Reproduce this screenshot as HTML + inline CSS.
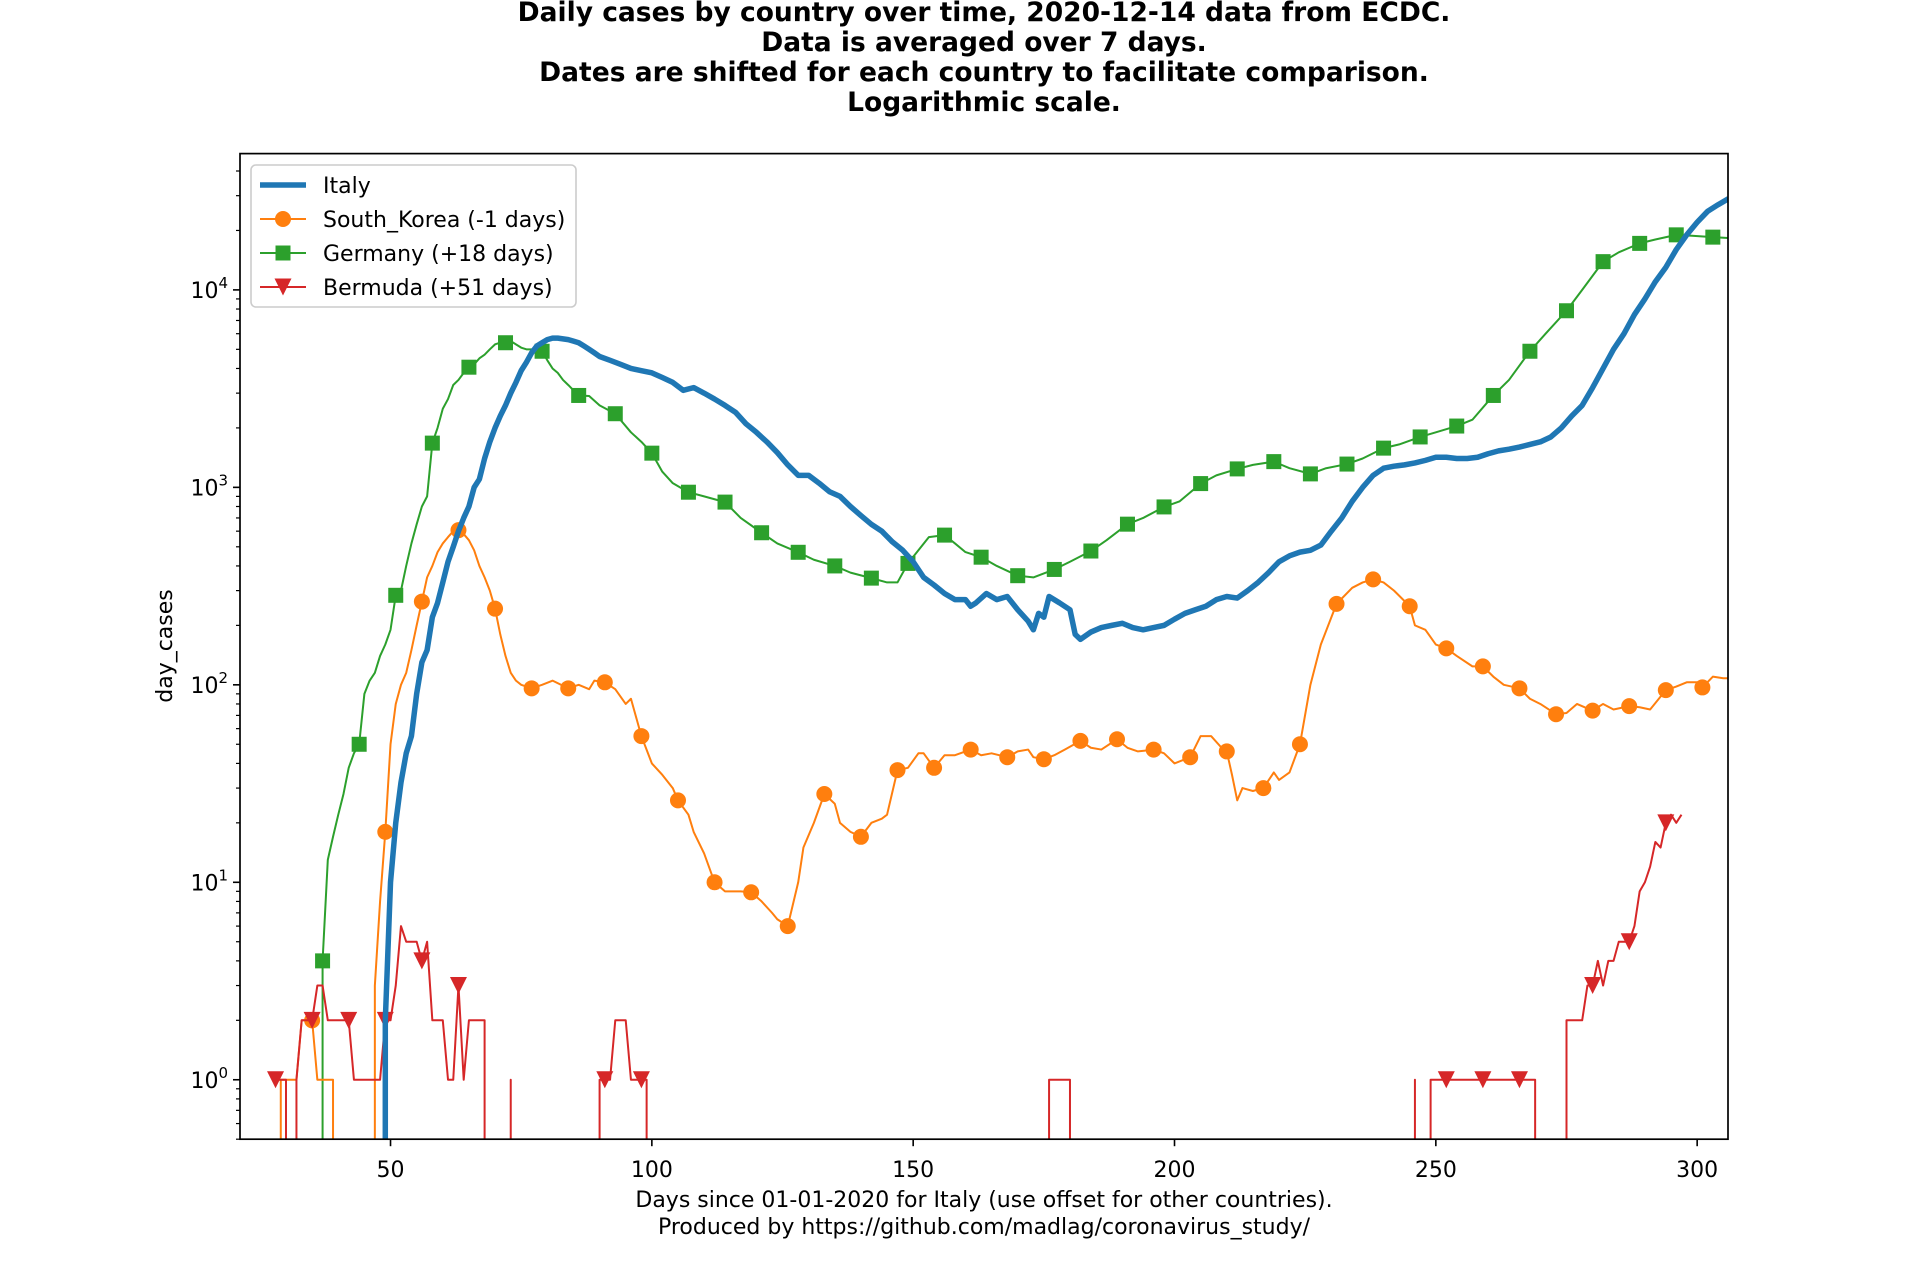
<!DOCTYPE html>
<html><head><meta charset="utf-8"><style>
html,body{margin:0;padding:0;background:#fff;overflow:hidden;width:1920px;height:1280px;}
svg{display:block;overflow:hidden;}
svg text{font-family:"DejaVu Sans","Liberation Sans",sans-serif;}
</style></head><body>
<svg id="chart" xmlns="http://www.w3.org/2000/svg" width="1920" height="1280" viewBox="0 0 1920 1280">
<rect x="0" y="0" width="1920" height="1280" fill="#fff"/>
<g font-weight="bold" font-size="26.5" text-anchor="middle">
<text x="984" y="21">Daily cases by country over time, 2020-12-14 data from ECDC.</text>
<text x="984" y="51">Data is averaged over 7 days.</text>
<text x="984" y="81">Dates are shifted for each country to facilitate comparison.</text>
<text x="984" y="111">Logarithmic scale.</text>
</g>
<defs><clipPath id="plotclip"><rect x="240" y="153.6" width="1488" height="985.6"/></clipPath></defs>
<g id="series" clip-path="url(#plotclip)"></g>
<rect x="240" y="153.6" width="1488" height="985.6" fill="none" stroke="#000" stroke-width="1.7"/>
<g id="xticks"></g>
<g id="yticks"></g>
<g font-size="22" text-anchor="middle">
<text x="984" y="1207">Days since 01-01-2020 for Italy (use offset for other countries).</text>
<text x="984" y="1234">Produced by https://github.com/madlag/coronavirus_study/</text>
</g>
<text font-size="22" text-anchor="middle" transform="translate(172,646) rotate(-90)">day_cases</text>
<g id="legend"></g>
</svg>
<script>
const xTicks = [50, 100, 150, 200, 250, 300];
const yTickExps = [0, 1, 2, 3, 4];

const italyDays = [48,49,50,51,52,53,54,55,56,57,58,59,60,61,62,63,64,65,66,67,68,69,70,71,72,73,74,75,76,77,78,79,80,81,82,83,84,85,86,87,88,89,90,92,94,96,98,100,102,104,106,108,110,112,114,116,118,120,122,124,126,128,130,132,134,136,138,140,142,144,146,148,150,152,154,156,158,160,161,162,164,166,168,170,172,173,174,175,176,178,180,181,182,184,186,188,190,192,194,196,198,200,202,204,206,208,210,212,214,216,218,220,222,224,226,228,230,232,234,236,238,240,242,244,246,248,250,252,254,256,258,260,262,264,266,268,270,272,274,276,278,280,282,284,286,288,290,292,294,296,298,300,302,304,306];
const italyCases = [0,2,10,20,32,45,55,90,130,150,220,260,330,420,500,600,700,800,1000,1100,1400,1700,2000,2300,2600,3000,3400,3900,4300,4800,5200,5400,5600,5700,5700,5650,5600,5500,5400,5200,5000,4800,4600,4400,4200,4000,3900,3800,3600,3400,3100,3200,3000,2800,2600,2400,2100,1900,1700,1500,1300,1150,1150,1050,950,900,800,720,650,600,530,480,420,350,320,290,270,270,250,260,290,270,280,240,210,190,230,220,280,260,240,180,170,185,195,200,205,195,190,195,200,215,230,240,250,270,280,275,300,330,370,420,450,470,480,510,600,700,850,1000,1150,1250,1280,1300,1330,1370,1420,1420,1400,1400,1420,1480,1530,1560,1600,1650,1700,1800,2000,2300,2600,3200,4000,5000,6000,7500,9000,11000,13000,16000,19000,22000,25000,27000,29000];

const koreaDays = [28,29,30,31,32,33,34,35,36,37,38,39,40,42,46,47,48,49,50,51,52,53,54,55,56,57,58,59,60,61,62,63,64,65,66,67,68,69,70,71,72,73,74,75,77,79,81,84,86,88,89,91,93,95,96,98,100,102,104,105,107,108,110,112,114,117,119,121,123,124,126,128,129,131,133,135,136,138,140,142,144,145,147,149,151,152,154,156,158,161,163,165,168,170,172,173,175,177,179,182,184,186,189,191,193,196,198,200,203,205,207,209,210,211,212,213,215,217,219,220,222,224,226,228,231,234,236,238,240,242,245,246,248,250,252,254,257,259,261,263,266,268,270,273,275,277,280,282,284,287,289,291,294,296,298,300,301,303,305,306];
const koreaCases = [0,1,1,1,1,2,2,2,1,1,1,1,0,0,0,3,8,18,50,80,100,115,150,200,264,350,400,470,520,560,600,607,580,540,480,400,350,300,243,180,140,115,105,100,96,100,105,96,100,95,105,103,95,80,85,55,40,35,30,26,22,18,14,10,9,9,8.9,8,7,6.5,6,10,15,20,28,25,20,18,17,20,21,22,37,38,45,45,38,44,44,47,44,45,43,46,47,43,42,44,47,52,48,47,53,48,46,47,45,40,43,55,55,48,46,35,26,30,29,30,36,33,36,50,100,160,257,310,330,342,330,300,250,200,190,160,153,140,124,124,110,100,96,85,80,71,72,80,74,80,75,78,77,75,94,98,103,103,97,110,108,108];

const germanyDays = [36,37,38,39,40,41,42,43,44,45,46,47,48,49,50,51,52,53,54,55,56,57,58,59,60,61,62,63,64,65,66,67,68,69,70,71,72,73,74,75,76,77,78,79,80,81,82,83,84,85,86,88,90,93,96,98,100,102,104,107,110,114,117,121,124,128,131,135,138,142,145,147,149,151,153,156,158,160,163,166,170,173,177,180,184,187,191,194,198,201,205,208,212,215,219,222,226,229,233,236,240,243,247,250,254,257,261,264,268,271,275,278,282,285,289,292,296,299,303,306];
const germanyCases = [0,4,13,17,22,28,38,45,50,90,105,115,140,160,190,284,300,400,520,650,800,900,1675,2000,2500,2800,3300,3500,3800,4060,4200,4500,4700,5000,5300,5400,5400,5500,5300,5100,5000,5000,4900,4890,4400,4000,3800,3500,3300,3100,2920,2900,2600,2360,1900,1700,1490,1200,1050,945,900,842,700,589,520,469,430,400,370,347,330,330,412,480,560,573,520,470,443,400,357,350,384,420,476,540,651,700,796,850,1045,1150,1240,1300,1350,1250,1170,1250,1312,1400,1580,1650,1800,1900,2044,2200,2920,3500,4890,6000,7840,10000,13900,15500,17200,18000,19000,18800,18500,18300];

const bermudaDays = [28,29,30,31,32,33,34,35,36,37,38,39,40,41,42,43,44,45,46,47,48,49,50,51,52,53,54,55,56,57,58,59,60,61,62,63,64,65,66,67,68,69,70,72,73,74,89,90,91,92,93,94,95,96,97,98,99,100,175,176,177,178,179,180,181,245,246,247,248,249,252,259,266,269,270,274,275,276,277,278,279,280,281,282,283,284,285,286,287,288,289,290,291,292,293,294,295,296,297];
const bermudaCases = [1,1,1,0,1,2,2,2,3,3,2,2,2,2,2,1,1,1,1,1,1,2,2,3,6,5,5,5,4,5,2,2,2,1,1,3,1,2,2,2,2,0,0,0,1,0,0,1,1,1,2,2,2,1,1,1,1,0,0,1,1,1,1,1,0,0,1,0,0,1,1,1,1,1,0,0,2,2,2,2,3,3,4,3,4,4,5,5,5,6,9,10,12,16,15,20,22,20,22];

const NS = "http://www.w3.org/2000/svg";
const AX = {l:240, r:1728, t:153.6, b:1139.2, xmin:21.2, xmax:305.9, lmin:Math.log10(0.5), lmax:Math.log10(49000)};
const BELOW = AX.b + 10;
function xScale(d){ return AX.l + (d - AX.xmin) / (AX.xmax - AX.xmin) * (AX.r - AX.l); }
function yScale(v){
  if (v <= 0) return BELOW;
  return AX.b - (Math.log10(v) - AX.lmin) / (AX.lmax - AX.lmin) * (AX.b - AX.t);
}
function mk(tag, attrs, parent){
  const e = document.createElementNS(NS, tag);
  for (const k in attrs) e.setAttribute(k, attrs[k]);
  parent.appendChild(e); return e;
}
const series = document.getElementById('series');

// zero values behave like log(0): the line drops vertically at the neighbouring day
function buildPath(days, vals){
  const pts = [];
  for (let i = 0; i < days.length; i++) {
    if (vals[i] > 0) { pts.push([xScale(days[i]), yScale(vals[i])]); continue; }
    if (i > 0 && vals[i-1] > 0) pts.push([xScale(days[i-1]), BELOW]);
    if (i < days.length - 1 && vals[i+1] > 0) pts.push([xScale(days[i+1]), BELOW]);
  }
  return pts.map((p, i) => (i ? 'L' : 'M') + p[0].toFixed(2) + ',' + p[1].toFixed(2)).join('');
}

function drawSeries(name, days, vals, color, width, marker, markStart){
  const g = mk('g', {}, series);
  
  
  const p = mk('path', {d:buildPath(days, vals), fill:'none', stroke:color, 'stroke-width':width, 'stroke-linejoin':'round'}, g);
  
  
  if (!marker) return;
  days.forEach((day, i) => {
    if ((day - markStart) % 7 !== 0 || vals[i] <= 0) return;
    const cx = xScale(day), cy = yScale(vals[i]);
    let m;
    if (marker === 'circle') m = mk('circle', {cx:cx, cy:cy, r:8, fill:color}, g);
    else if (marker === 'square') m = mk('rect', {x:cx-7.5, y:cy-7.5, width:15, height:15, fill:color}, g);
    else m = mk('path', {d:`M${cx-8.5},${cy-8.5}L${cx+8.5},${cy-8.5}L${cx},${cy+8.5}Z`, fill:color}, g);
    
    
  });
}
drawSeries('germany', germanyDays, germanyCases, '#2ca02c', 2, 'square', 37);
drawSeries('south-korea', koreaDays, koreaCases, '#ff7f0e', 2, 'circle', 35);
drawSeries('bermuda', bermudaDays, bermudaCases, '#d62728', 2, 'triangle', 28);
drawSeries('italy', italyDays, italyCases, '#1f77b4', 5.5, null, 0);

const xg = document.getElementById('xticks');
xTicks.forEach(t => {
  const x = xScale(t);
  const l = mk('line', {x1:x, x2:x, y1:AX.b, y2:AX.b+7, stroke:'#000', 'stroke-width':1.6}, xg);
  
  
  const tx = mk('text', {x:x, y:1177, 'font-size':22, 'text-anchor':'middle'}, xg);
  tx.textContent = t;
  
  
});
const yg = document.getElementById('yticks');
yTickExps.forEach(e => {
  const y = yScale(Math.pow(10, e));
  const l = mk('line', {x1:AX.l-7, x2:AX.l, y1:y, y2:y, stroke:'#000', 'stroke-width':1.6}, yg);
  
  
  const tx = mk('text', {x:AX.l-12, y:y+8, 'font-size':22, 'text-anchor':'end'}, yg);
  tx.innerHTML = '10<tspan font-size="15" dy="-10">' + e + '</tspan>';
  
  
});
for (let e = -1; e <= 4; e++) {
  for (let k = 2; k <= 9; k++) {
    const v = k * Math.pow(10, e);
    if (v < 0.5 || v > 49000) continue;
    const y = yScale(v);
    const l = mk('line', {x1:AX.l-4, x2:AX.l, y1:y, y2:y, stroke:'#000', 'stroke-width':1.2}, yg);
    
    
  }
}

const lg = document.getElementById('legend');
const box = mk('rect', {x:251, y:165, width:325, height:142, rx:5, fill:'#fff', 'fill-opacity':0.8, stroke:'#cccccc', 'stroke-width':1.6}, lg);


const entries = [
  ['Italy', '#1f77b4', 5.5, null],
  ['South_Korea (-1 days)', '#ff7f0e', 2, 'circle'],
  ['Germany (+18 days)', '#2ca02c', 2, 'square'],
  ['Bermuda (+51 days)', '#d62728', 2, 'triangle']
];
entries.forEach((en, i) => {
  const y = 185 + i * 34;
  const g = mk('g', {}, lg);
  
  
  mk('line', {x1:260, x2:306, y1:y, y2:y, stroke:en[1], 'stroke-width':en[2]}, g);
  const cx = 283;
  if (en[3] === 'circle') mk('circle', {cx:cx, cy:y, r:8, fill:en[1]}, g);
  else if (en[3] === 'square') mk('rect', {x:cx-7.5, y:y-7.5, width:15, height:15, fill:en[1]}, g);
  else if (en[3] === 'triangle') mk('path', {d:`M${cx-8.5},${y-8.5}L${cx+8.5},${y-8.5}L${cx},${y+8.5}Z`, fill:en[1]}, g);
  const t = mk('text', {x:323, y:y+8, 'font-size':22}, g);
  t.textContent = en[0];
});
</script>
</body></html>
